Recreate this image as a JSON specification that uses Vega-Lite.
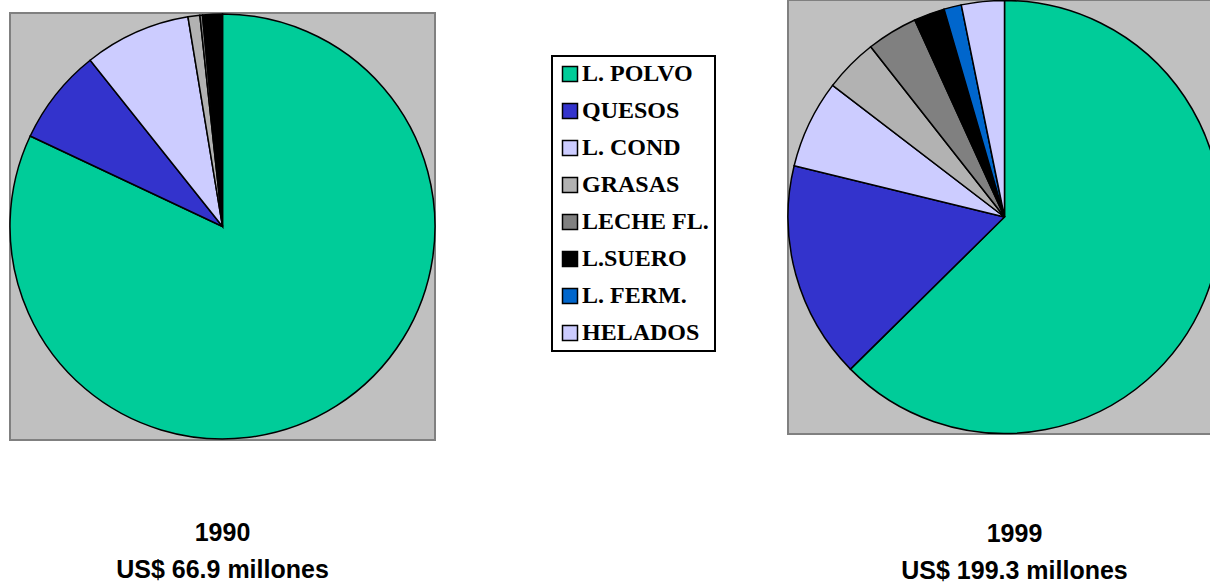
{
  "$schema": "https://vega.github.io/schema/vega-lite/v6.json",
  "padding": {"left": 6, "top": -4, "right": 0, "bottom": 0},
  "background": "white",
  "datasets": {
    "shares": [
      {"year": 1990, "cat": "L. POLVO", "ord": 1, "pct": 82.0},
      {"year": 1990, "cat": "QUESOS", "ord": 2, "pct": 7.3},
      {"year": 1990, "cat": "L. COND", "ord": 3, "pct": 8.1},
      {"year": 1990, "cat": "GRASAS", "ord": 4, "pct": 0.9},
      {"year": 1990, "cat": "LECHE FL.", "ord": 5, "pct": 0.2},
      {"year": 1990, "cat": "L.SUERO", "ord": 6, "pct": 1.5},
      {"year": 1999, "cat": "L. POLVO", "ord": 1, "pct": 62.6},
      {"year": 1999, "cat": "QUESOS", "ord": 2, "pct": 16.2},
      {"year": 1999, "cat": "L. COND", "ord": 3, "pct": 6.6},
      {"year": 1999, "cat": "GRASAS", "ord": 4, "pct": 4.0},
      {"year": 1999, "cat": "LECHE FL.", "ord": 5, "pct": 3.8},
      {"year": 1999, "cat": "L.SUERO", "ord": 6, "pct": 2.3},
      {"year": 1999, "cat": "L. FERM.", "ord": 7, "pct": 1.3},
      {"year": 1999, "cat": "HELADOS", "ord": 8, "pct": 3.2}
    ],
    "empty": []
  },
  "hconcat": [
    {
      "vconcat": [
        {
          "width": 425,
          "height": 3,
          "data": {"name": "empty"},
          "mark": "point",
          "encoding": {},
          "view": {"stroke": null, "fill": null}
        },
        {
          "width": 425,
          "height": 427,
          "data": {"name": "shares"},
          "transform": [{"filter": "datum.year == 1990"}],
          "title": {
            "text": ["1990", "US$ 66.9 millones"],
            "orient": "bottom",
            "anchor": "middle",
            "offset": 79,
            "font": "Liberation Sans",
            "fontSize": 25,
            "fontWeight": "bold",
            "lineHeight": 37,
            "color": "black"
          },
          "view": {"fill": "#C0C0C0", "stroke": "#808080", "strokeWidth": 2},
          "mark": {"type": "arc", "stroke": "black", "strokeWidth": 1.5},
          "encoding": {
            "theta": {"field": "pct", "type": "quantitative", "stack": true},
            "order": {"field": "ord", "type": "quantitative"},
            "color": {
              "field": "cat",
              "type": "nominal",
              "scale": {
                "domain": ["L. POLVO", "QUESOS", "L. COND", "GRASAS", "LECHE FL.", "L.SUERO", "L. FERM.", "HELADOS"],
                "range": ["#00CC99", "#3333CC", "#CCCCFF", "#B2B2B2", "#808080", "#000000", "#0066CC", "#CCCCFF"]
              },
              "legend": {
                "orient": "none",
                "legendX": 542,
                "legendY": 56,
                "title": null,
                "symbolType": "square",
                "symbolSize": 225,
                "symbolStrokeColor": "black",
                "symbolStrokeWidth": 1.5,
                "symbolOpacity": 1,
                "labelFont": "Liberation Serif",
                "labelFontWeight": "bold",
                "labelFontSize": 24,
                "labelColor": "black",
                "labelOffset": 0,
                "rowPadding": 13,
                "padding": 6,
                "strokeColor": "black",
                "fillColor": "white",
                "labelLimit": 300,
                "encode": {"legend": {"update": {"strokeWidth": {"value": 2}}}}
              }
            }
          }
        }
      ],
      "spacing": 7
    },
    {
      "width": 433,
      "height": 434,
      "data": {"name": "shares"},
      "transform": [{"filter": "datum.year == 1999"}],
      "title": {
        "text": ["1999", "US$ 199.3 millones"],
        "orient": "bottom",
        "anchor": "middle",
        "offset": 85,
        "dx": 10,
        "font": "Liberation Sans",
        "fontSize": 25,
        "fontWeight": "bold",
        "lineHeight": 37,
        "color": "black"
      },
      "view": {"fill": "#C0C0C0", "stroke": "#808080", "strokeWidth": 2},
      "mark": {"type": "arc", "stroke": "black", "strokeWidth": 1.5},
      "encoding": {
        "theta": {"field": "pct", "type": "quantitative", "stack": true},
        "order": {"field": "ord", "type": "quantitative"},
        "color": {"field": "cat", "type": "nominal"}
      }
    }
  ],
  "spacing": 345,
  "config": {
    "view": {"stroke": null}
  }
}
